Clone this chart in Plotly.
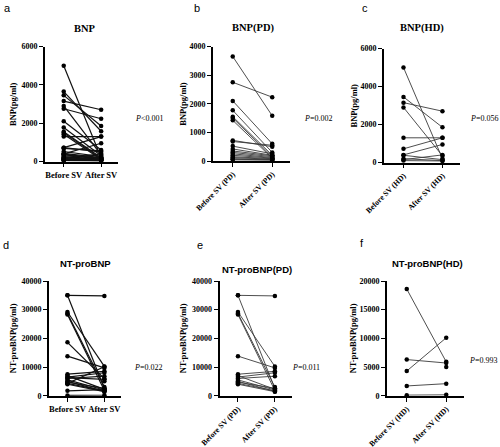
import plotly.graph_objects as go

W, H = 500, 447

# ---------------- data ----------------
bnp_pd_before = [3650, 2750, 2100, 1770, 1550, 1500, 1420, 720, 680, 520, 420, 350, 300, 250, 200, 150, 120, 80, 60, 40]
bnp_pd_after = [1580, 2230, 600, 300, 200, 150, 100, 500, 550, 250, 200, 180, 150, 120, 100, 80, 60, 50, 40, 30]
bnp_hd_before = [5000, 3450, 3150, 2900, 1300, 720, 400, 380, 200, 150, 100]
bnp_hd_after = [200, 1850, 2700, 350, 1300, 1300, 950, 150, 100, 400, 80]

nt_pd_before = [35000, 35000, 29200, 28700, 28300, 13800, 7500, 7000, 6500, 6000, 5500, 5000, 4700, 4300, 4000]
nt_pd_after = [34800, 2500, 10200, 3000, 1800, 9700, 8500, 2200, 8000, 6800, 2000, 1500, 2600, 1700, 1400]
nt_hd_before = [18600, 6300, 4300, 1700, 100, None]
nt_hd_after = [5900, 5700, 10100, 2100, 150, 5000]

cats_all = ["Before SV", "After SV"]
cats_pd = ["Before SV (PD)", "After SV (PD)"]
cats_hd = ["Before SV (HD)", "After SV (HD)"]

titles = ["BNP", "BNP(PD)", "BNP(HD)", "NT-proBNP", "NT-proBNP(PD)", "NT-proBNP(HD)"]
letters = ["a", "b", "c", "d", "e", "f"]
ytitles = ["BNP(pg/ml)"] * 3 + ["NT-proBNP(pg/ml)"] * 3
pvals = ["<0.001", "=0.002", "=0.056", "=0.022", "=0.011", "=0.993"]
yranges = [6000, 4000, 6000, 40000, 40000, 20000]
ydticks = [2000, 1000, 2000, 10000, 10000, 5000]

panels_data = [
    (bnp_pd_before + bnp_hd_before, bnp_pd_after + bnp_hd_after, cats_all),
    (bnp_pd_before, bnp_pd_after, cats_pd),
    (bnp_hd_before, bnp_hd_after, cats_hd),
    (nt_pd_before + nt_hd_before, nt_pd_after + nt_hd_after, cats_all),
    (nt_pd_before, nt_pd_after, cats_pd),
    (nt_hd_before, nt_hd_after, cats_hd),
]

# ---------------- layout geometry (pixels) ----------------
boxes = [
    (45, 118, 46.5, 161.5),
    (213, 290, 46.5, 161),
    (384, 460, 48.5, 162.5),
    (49, 121, 281, 395.7),
    (219.5, 291.5, 281, 395.7),
    (387, 464, 281, 395.7),
]
title_pos = [(85, 28), (253, 28), (422, 28), (85, 263), (257, 269), (427, 263)]
letter_pos = [(7, 8), (197, 8), (365, 8), (6, 245), (200, 245), (362, 243)]
ytitle_x = [13, 183, 353, 13, 183, 353]
p_pos = [(133, 118), (302, 118), (468, 118), (132, 367), (290, 367), (467, 360)]

serif = "Liberation Serif, Times New Roman, serif"
sans = "Liberation Sans, Arial, sans-serif"

fig = go.Figure()
annotations = []

for i in range(6):
    before, after, cats = panels_data[i]
    xa = "x" if i == 0 else f"x{i+1}"
    ya = "y" if i == 0 else f"y{i+1}"
    combined = i in (0, 3)
    lcol = "#111111" if combined else "#3a3a3a"
    lw = 1.2 if combined else 0.9
    for b, a in zip(before, after):
        fig.add_trace(go.Scatter(
            x=cats, y=[b, a], xaxis=xa, yaxis=ya, mode="lines+markers",
            line=dict(color=lcol, width=lw),
            marker=dict(color="black", size=4.5),
            showlegend=False, hoverinfo="skip", cliponaxis=False))

    l, r, t, bt = boxes[i]
    xdom = [l / W, r / W]
    ydom = [1 - bt / H, 1 - t / H]
    rotated = not combined
    fig.layout[("xaxis" if i == 0 else f"xaxis{i+1}")] = dict(
        domain=xdom, anchor=ya, type="category", categoryorder="array", categoryarray=cats,
        range=[-0.5, 1.45], showline=True, linecolor="black", linewidth=1.6,
        ticks="outside", ticklen=4, tickwidth=1.4, tickcolor="black",
        showgrid=False, zeroline=False, automargin=False,
        tickangle=-45 if rotated else 0,
        tickfont=dict(family=serif, size=7.8 if rotated else 8.5, color="black", weight="bold"),
    )
    fig.layout[("yaxis" if i == 0 else f"yaxis{i+1}")] = dict(
        domain=ydom, anchor=xa, range=[0, yranges[i]], tick0=0, dtick=ydticks[i],
        tickformat="d",
        showline=True, linecolor="black", linewidth=1.6,
        ticks="outside", ticklen=4, tickwidth=1.4, tickcolor="black",
        showgrid=False, zeroline=False, automargin=False,
        tickfont=dict(family=serif, size=8, color="black", weight="bold"),
    )

    tx, ty = title_pos[i]
    annotations.append(dict(
        x=tx / W, y=1 - ty / H, xref="paper", yref="paper", text=f"<b>{titles[i]}</b>",
        showarrow=False, xanchor="center", yanchor="middle",
        font=dict(family=serif if i < 3 else sans, size=10.5 if i < 3 else 9.5, color="black")))
    lx, ly = letter_pos[i]
    annotations.append(dict(
        x=lx / W, y=1 - ly / H, xref="paper", yref="paper", text=letters[i],
        showarrow=False, xanchor="center", yanchor="middle",
        font=dict(family=sans, size=11, color="black")))
    annotations.append(dict(
        x=ytitle_x[i] / W, y=1 - ((t + bt) / 2) / H, xref="paper", yref="paper",
        text=f"<b>{ytitles[i]}</b>", textangle=-90, showarrow=False,
        xanchor="center", yanchor="middle",
        font=dict(family=serif, size=8.5, color="black")))
    px, py = p_pos[i]
    annotations.append(dict(
        x=px / W, y=1 - py / H, xref="paper", yref="paper",
        text=f"<i>P</i>{pvals[i]}", showarrow=False, xanchor="left", yanchor="middle",
        font=dict(family=serif, size=8, color="black")))

fig.update_layout(
    template="none",
    width=W, height=H, margin=dict(l=0, r=0, t=0, b=0, autoexpand=False),
    paper_bgcolor="white", plot_bgcolor="white",
    annotations=annotations, showlegend=False,
)

fig.write_html("out.html", config={"displayModeBar": False},
               post_script="document.body.style.margin='0px';")
